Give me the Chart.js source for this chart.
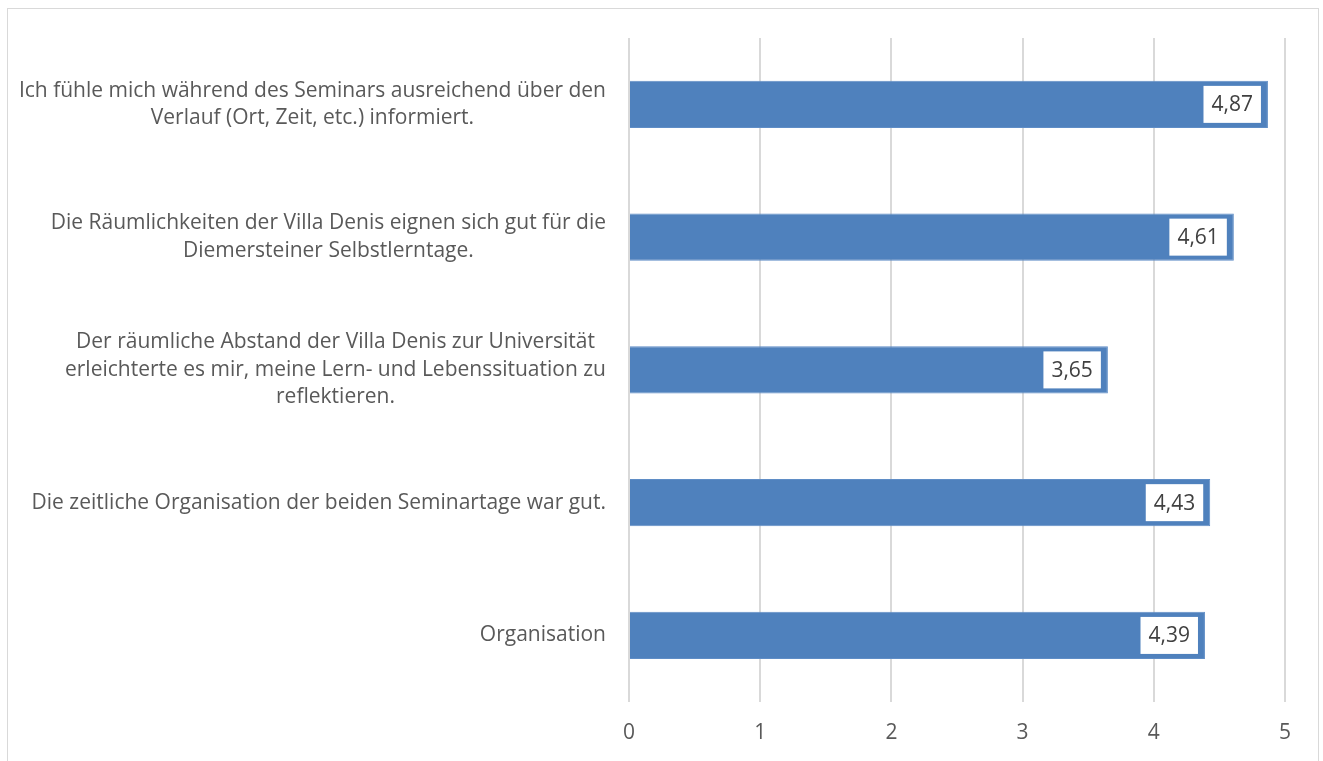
<!DOCTYPE html>
<html>
<head>
<meta charset="utf-8">
<script src="https://cdn.jsdelivr.net/npm/chart.js@4"></script>
<style>
  html, body { margin: 0; padding: 0; background: #fff; overflow: hidden; }
  #rahmen { position: absolute; left: 7px; top: 8px; width: 1310px; height: 800px; border: 1px solid #D9D9D9; }
  #grafik { position: absolute; left: 0; top: 0; }
</style>
</head>
<body>
<div id="rahmen"></div>
<canvas id="grafik" width="1323" height="761"></canvas>
<script>
var kategorien = [
  ["Ich fühle mich während des Seminars ausreichend über den", "Verlauf (Ort, Zeit, etc.) informiert."],
  ["Die Räumlichkeiten der Villa Denis eignen sich gut für die", "Diemersteiner Selbstlerntage."],
  ["Der räumliche Abstand der Villa Denis zur Universität", "erleichterte es mir, meine Lern- und Lebenssituation zu", "reflektieren."],
  ["Die zeitliche Organisation der beiden Seminartage war gut."],
  ["Organisation"]
];
var werte = [4.87, 4.61, 3.65, 4.43, 4.39];
var achseMin = 0;
var achseMax = 5;

var schrift = "'Open Sans', sans-serif";

// Beschriftungen links, jede Zeile mittig, Block rechtsbuendig (wie Excel)
var kategorieText = {
  id: 'kategorieText',
  afterDraw: function (chart) {
    var ctx = chart.ctx;
    var y = chart.scales.y;
    var rechts = chart.chartArea.left - 23;
    ctx.save();
    ctx.font = "21px " + schrift;
    ctx.fillStyle = "#595959";
    ctx.textAlign = "center";
    ctx.textBaseline = "middle";
    kategorien.forEach(function (zeilen, i) {
      var breit = 0;
      zeilen.forEach(function (z) { breit = Math.max(breit, ctx.measureText(z).width); });
      var mitte = rechts - breit / 2;
      var yc = y.getPixelForValue(i);
      var lh = 27.5;
      var start = yc - (zeilen.length - 1) * lh / 2;
      zeilen.forEach(function (z, k) { ctx.fillText(z, mitte, start + k * lh); });
    });
    ctx.restore();
  }
};

// Wertebeschriftung in weissen Kaestchen am Balkenende
var wertLabels = {
  id: 'wertLabels',
  afterDatasetsDraw: function (chart) {
    var ctx = chart.ctx;
    var meta = chart.getDatasetMeta(0);
    ctx.save();
    ctx.font = "21px " + schrift;
    ctx.textAlign = "center";
    ctx.textBaseline = "middle";
    meta.data.forEach(function (bar, i) {
      var txt = werte[i].toFixed(2).replace('.', ',');
      var w = ctx.measureText(txt).width + 16;
      var h = 37;
      var x1 = bar.x - 7 - w;
      var y1 = bar.y - h / 2;
      ctx.fillStyle = "#fff";
      ctx.fillRect(x1, y1, w, h);
      ctx.fillStyle = "#404040";
      ctx.fillText(txt, x1 + w / 2, bar.y + 1);
    });
    ctx.restore();
  }
};

var grafik = new Chart(document.getElementById('grafik'), {
  type: 'bar',
  data: {
    labels: kategorien,
    datasets: [{
      data: werte,
      backgroundColor: '#4F81BD',
      borderColor: '#5F8DC6',
      borderWidth: 1,
      categoryPercentage: 1,
      barPercentage: 0.355
    }]
  },
  options: {
    indexAxis: 'y',
    responsive: false,
    animation: false,
    devicePixelRatio: 1,
    layout: { padding: { left: 629, right: 38, top: 38, bottom: -4 } },
    plugins: { legend: { display: false }, tooltip: { enabled: false } },
    scales: {
      x: {
        min: achseMin,
        max: achseMax,
        ticks: { stepSize: 1, color: '#595959', font: { family: schrift, size: 21 }, padding: 19 },
        grid: { color: '#D9D9D9', lineWidth: 2, drawTicks: false },
        border: { display: false }
      },
      y: { display: false }
    }
  },
  plugins: [kategorieText, wertLabels]
});
</script>
</body>
</html>
